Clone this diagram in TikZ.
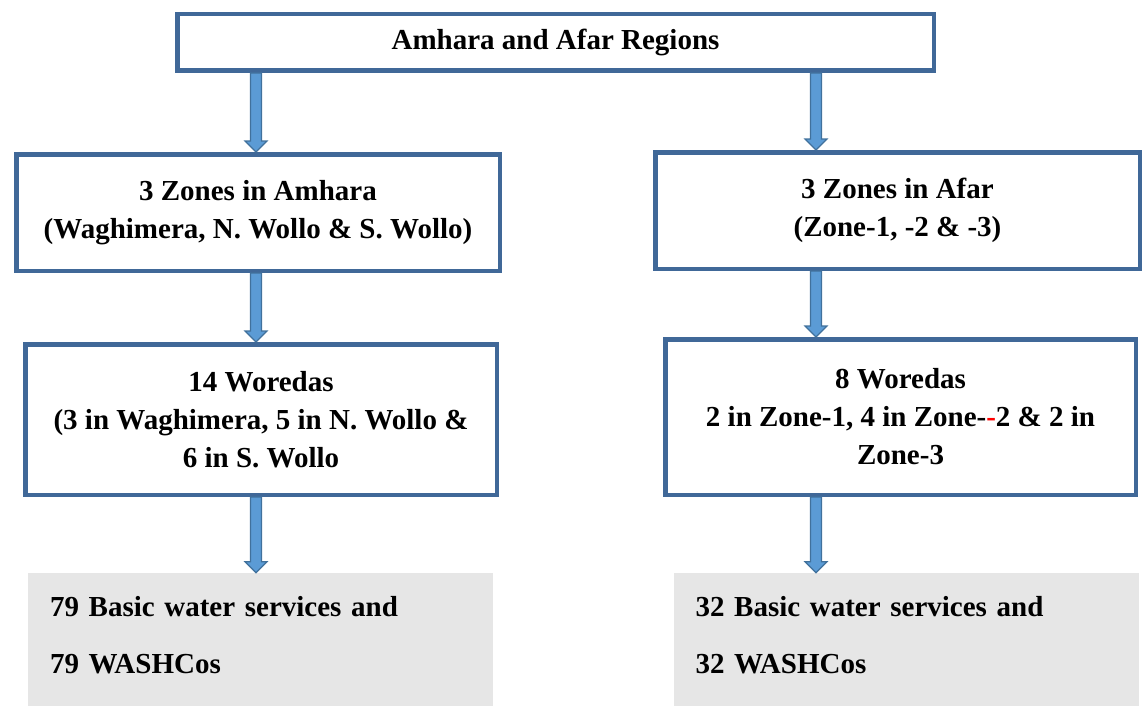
\documentclass[tikz,border=0pt]{standalone}
\usepackage{fontspec}
\setmainfont{Liberation Serif}[BoldFont={Liberation Serif Bold}]
\usetikzlibrary{calc}
\definecolor{box edge}{RGB}{64,104,152}
\definecolor{arrow area}{RGB}{91,155,213}
\definecolor{arrow edge}{RGB}{65,113,156}
\definecolor{result area}{RGB}{230,230,230}
\tikzset{level/.style={draw=box edge, line width=4.5pt, align=center, inner sep=0pt,
        font=\rmfamily\bfseries\fontsize{29}{38}\selectfont},
    result/.style={fill=result area, align=left, inner xsep=22pt, inner ysep=0pt,
        text width=421pt, minimum height=133pt, text depth=67pt,
        font=\rmfamily\bfseries\fontsize{29}{57}\selectfont},
    flow/.style={fill=arrow area, draw=arrow edge, line width=1.2pt}}
\def\flowArrow#1#2{\draw[flow] ($(#1)+(-5.5,0)$) -- ($(#2)+(-5.5,-11)$) -- ($(#2)+(-11,-11)$)
    -- (#2) -- ($(#2)+(11,-11)$) -- ($(#2)+(5.5,-11)$) -- ($(#1)+(5.5,0)$) -- cycle;}

\begin{document}
\begin{tikzpicture}[x=1pt, y=-1pt]
    \useasboundingbox (0,0) rectangle (1145,706);
    % columns of the arrows
    \coordinate (colL) at (256,0);
    \coordinate (colR) at (816,0);
    \node[level, minimum width=756.5pt, minimum height=56.5pt] (regions) at (555.5,42.5)
        {Amhara and Afar Regions};
    \node[level, minimum width=483.5pt, minimum height=116.5pt] (zonesAm) at (258,212.5)
        {3 Zones in Amhara\\(Waghimera, N. Wollo \& S. Wollo)};
    \node[level, minimum width=484.5pt, minimum height=116.5pt] (zonesAf) at (897.5,210.5)
        {3 Zones in Afar\\(Zone-1, -2 \& -3)};
    \node[level, minimum width=471.5pt, minimum height=150.5pt] (woredasAm) at (261,419.5)
        {14 Woredas\\(3 in Waghimera, 5 in N. Wollo \&\\6 in S. Wollo};
    \node[level, minimum width=470.5pt, minimum height=155.5pt] (woredasAf) at (900.5,417)
        {8 Woredas\\2 in Zone-1, 4 in Zone-\textcolor{red}{-}2 \& 2 in\\Zone-3};
    \node[result] (waterAm) at (260.5,639.5)
        {79 Basic water services and\\79 WASHCos};
    \node[result] (waterAf) at (906,639.5)
        {32 Basic water services and\\32 WASHCos};
    % arrows
    \flowArrow{regions.south -| colL}{zonesAm.north -| colL}
    \flowArrow{regions.south -| colR}{zonesAf.north -| colR}
    \flowArrow{zonesAm.south -| colL}{woredasAm.north -| colL}
    \flowArrow{zonesAf.south -| colR}{woredasAf.north -| colR}
    \flowArrow{woredasAm.south -| colL}{waterAm.north -| colL}
    \flowArrow{woredasAf.south -| colR}{waterAf.north -| colR}
\end{tikzpicture}
\end{document}
